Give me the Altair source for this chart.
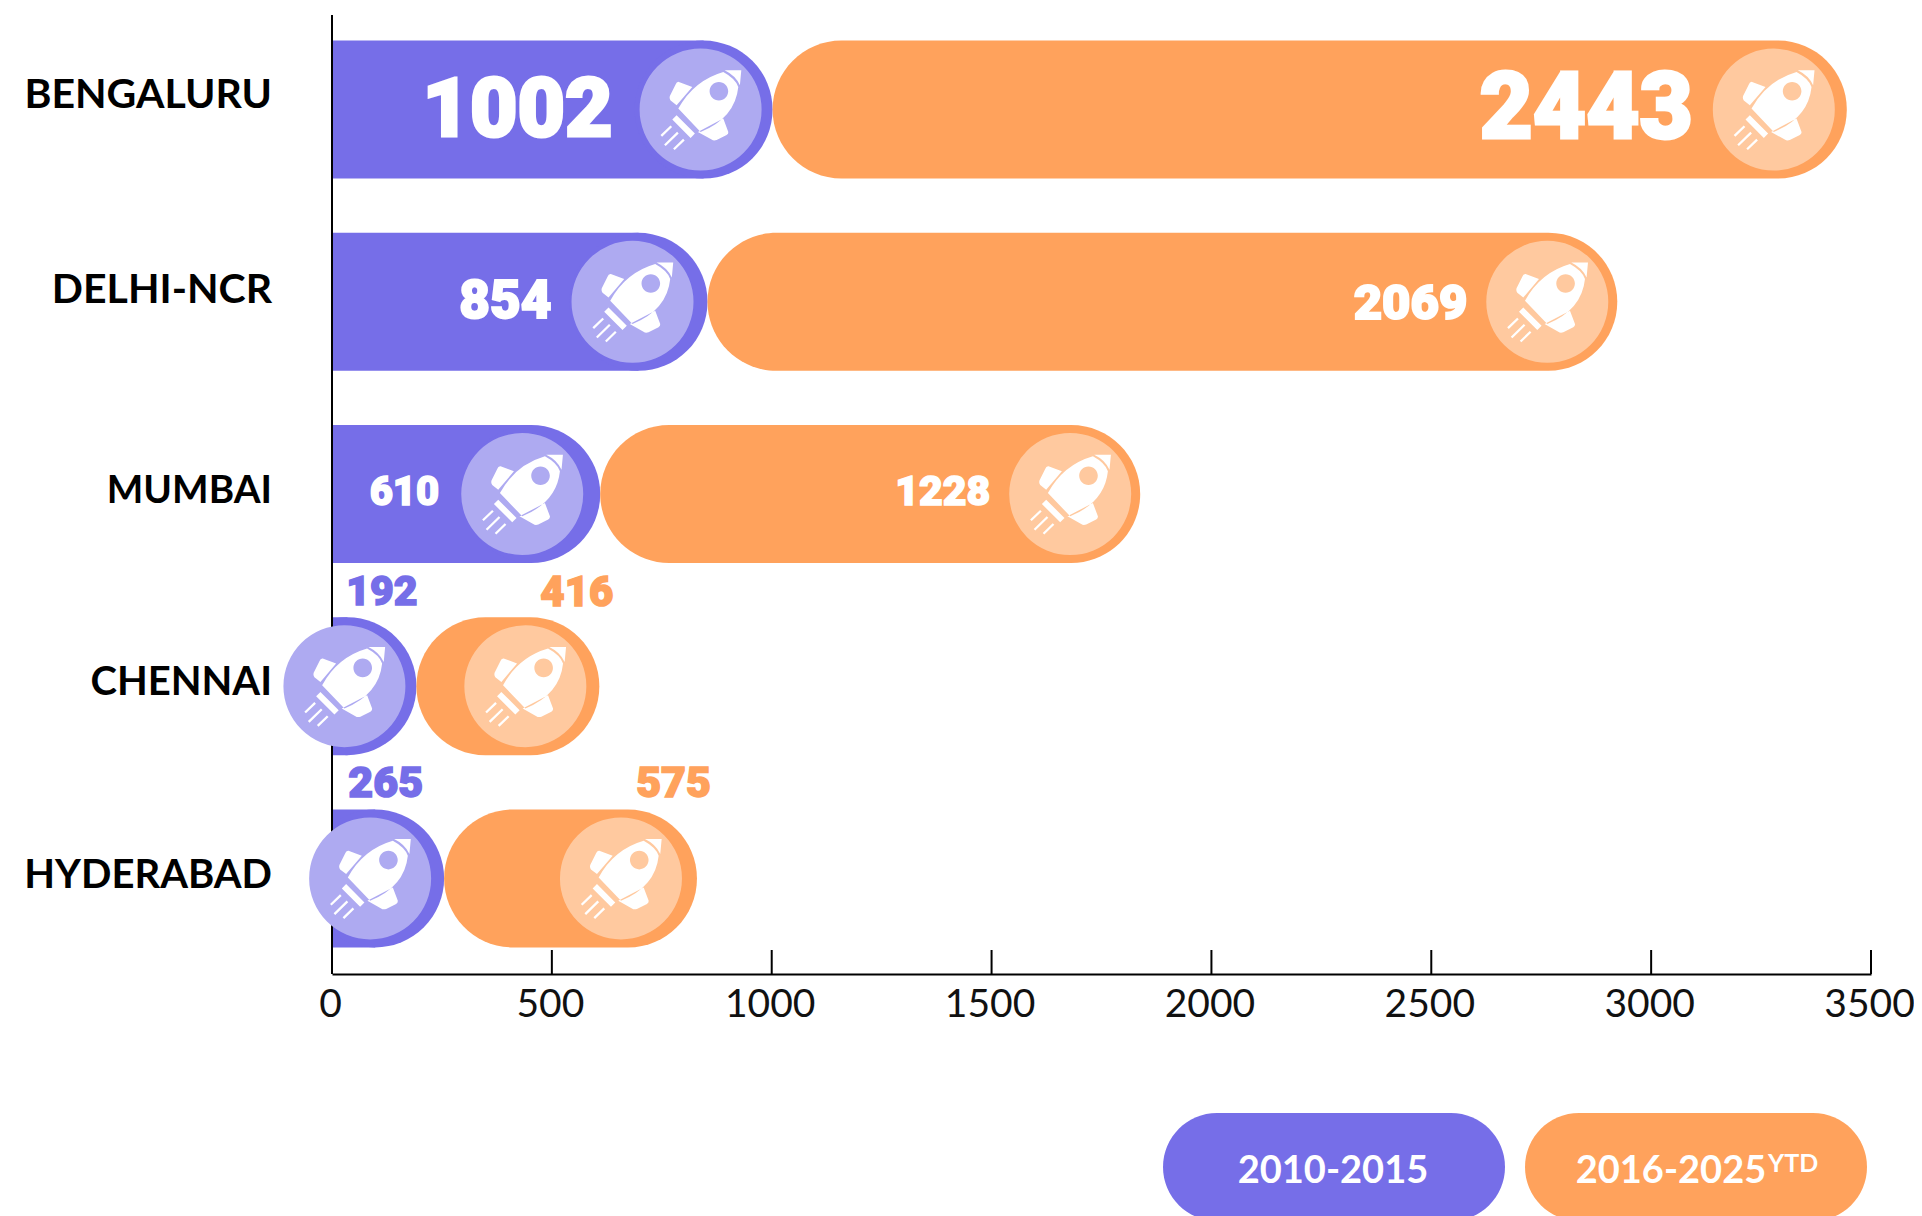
import re
import altair as alt
import pandas as pd

cities = ["BENGALURU", "DELHI-NCR", "MUMBAI", "CHENNAI", "HYDERABAD"]
early_labels = [1002, 854, 610, 192, 265]
early_bars = [1002, 854, 610, 192, 255]   # bar length as drawn in the picture
late = [2443, 2069, 1228, 416, 575]
x_ticks = [0, 500, 1000, 1500, 2000, 2500, 3000, 3500]

BLUE, ORANGE = "#766EE8", "#FFA25C"
BLUE_L, ORANGE_L = "#AEAAF1", "#FFC99F"
LABEL_FONT, AXIS_FONT = "Roboto", "Lato"

# label styling per city: font size, stroke, dx, dy
early_style = [(82, 3, -160, 1.5), (53, 2, -156, 0.5), (40, 1.5, -161, -1.5), (41, 1.5, 1, -93), (43, 1.5, -21, -94)]
late_style = [(92, 3, -154, 0), (49, 2, -150, 1.7), (41, 1.5, -150, -1.5), (42, 1.5, 14, -93), (43, 1.5, 14, -94)]
city_style = [(41, -13.5), (41, -11), (38.7, -3), (40, -3), (40, -2)]
early_circle_off = [-72, -75, -78, -72, -74]
late_circle_off = [-73, -70, -70, -74, -76]

ROCKET_PX = (
    "M24 -39.3 L40.7 -39.3 L39.3 -24.3 Q35 -34 24 -39.3 Z "
    "M22.7 -37.7 Q-6.8 -29.25 -22.3 -1 L0 22.3 Q34.55 8.2 37.7 -22.7 Q35 -31 22.7 -37.7 Z "
    "M18.3 -27.6 C23.4 -27.6 27.6 -23.4 27.6 -18.3 C27.6 -13.2 23.4 -9 18.3 -9 "
    "C13.2 -9 9 -13.2 9 -18.3 C9 -23.4 13.2 -27.6 18.3 -27.6 Z "
    "M-21.7 -27.7 L-8.3 -22.7 L-24 -4.3 L-30 -9 Q-32 -12 -30 -15 L-25 -25 Q-24 -28 -21.7 -27.7 Z "
    "M22.7 9 L27.7 22.3 Q28 24 26 25.5 L16 30.5 Q13 31.5 11 30 L-2.7 22.3 Z "
    "M-24 5.7 L-5.7 24 L-10 28.3 L-28.3 10 Z "
    "M-28.5 17.5 L-38.5 27.1 L-40.1 25.5 L-30.1 15.9 Z "
    "M-21.9 23.8 L-34.9 36.5 L-36.5 34.9 L-23.5 22.2 Z "
    "M-15.9 30.8 L-25.9 40.5 L-27.5 38.9 L-17.5 29.2 Z"
)
ROCKET = re.sub(r"-?\d+\.?\d*", lambda m: f"{float(m.group()) / 50:.4f}", ROCKET_PX)

df = pd.DataFrame({"city": cities, "early": early_bars, "late": late})
df["total"] = df["early"] + df["late"]
ticks = pd.DataFrame({"v": x_ticks})

x_scale = alt.Scale(domain=[0, 3500], nice=False)
y_scale = alt.Scale(domain=cities, range=[-1.5, 959.5], paddingInner=0, paddingOuter=0)
Y = alt.Y("city:N", scale=y_scale, axis=None, sort=None)
base = alt.Chart(df)

# square-ended body plus a round cap, so the cap keeps its full radius on short bars
bar_early = base.mark_bar(size=138, color=BLUE, xOffset=-69).encode(
    x=alt.X("early:Q", scale=x_scale, title=None,
            axis=alt.Axis(values=x_ticks, ticks=False, grid=False, domainColor="black", domainWidth=2,
                          labelFont=AXIS_FONT, labelFontSize=39, labelColor="#111", labelPadding=11,
                          labelOffset=-2, labelFontWeight=400, labelFlush=False, labelOverlap=False,
                          format="d")),
    x2=alt.datum(0),
    y=Y,
)
cap_early = base.mark_circle(size=19044, color=BLUE, opacity=1, xOffset=-69, clip=True).encode(
    x=alt.X("early:Q", scale=x_scale), y=Y
)
bar_late = base.mark_bar(size=138, color=ORANGE, cornerRadius=69).encode(
    x=alt.X("early:Q", scale=x_scale), x2="total:Q", y=Y
)
y_line = alt.Chart(ticks.head(1)).mark_rule(color="black", strokeWidth=2).encode(
    x=alt.value(0), y=alt.value(0), y2=alt.value(959)
)
tick_marks = alt.Chart(ticks).mark_rule(color="black", strokeWidth=2).encode(
    x=alt.X("v:Q", scale=x_scale), y=alt.value(935), y2=alt.value(959)
)

layers = [bar_early, cap_early, bar_late, y_line, tick_marks]

for i, city in enumerate(cities):
    row = base.transform_filter(alt.datum.city == city)
    for field, light, off in [("early", BLUE_L, early_circle_off[i]), ("total", ORANGE_L, late_circle_off[i])]:
        layers.append(row.mark_circle(size=14884, color=light, opacity=1, xOffset=off).encode(
            x=alt.X(f"{field}:Q", scale=x_scale), y=Y))
        layers.append(row.mark_point(shape=ROCKET, size=10000, filled=True, fill="white", opacity=1,
                                     strokeWidth=0, xOffset=off).encode(
            x=alt.X(f"{field}:Q", scale=x_scale), y=Y))

for i, city in enumerate(cities):
    row = base.transform_filter(alt.datum.city == city)
    for field, val, style, out_col in [
        ("early", early_labels[i], early_style[i], BLUE),
        ("total", late[i], late_style[i], ORANGE),
    ]:
        fs, sw, dx, dy = style
        col = "white" if i < 3 else out_col
        layers.append(row.mark_text(font=LABEL_FONT, fontWeight=900, fontSize=fs, color=col, stroke=col,
                                    strokeWidth=sw, align="right", baseline="middle", dx=dx, dy=dy).encode(
            x=alt.X(f"{field}:Q", scale=x_scale), y=Y, text=alt.value(str(val))))
    fs, dy = city_style[i]
    layers.append(row.mark_text(font=AXIS_FONT, fontWeight=700, fontSize=fs, color="black", align="right",
                                baseline="middle", dy=dy).encode(
        x=alt.value(-60), y=Y, text="city:N"))

# legend pills
leg = alt.Chart(ticks.head(1))
for x0, x1, col in [(831, 1173, BLUE), (1193, 1535, ORANGE)]:
    layers.append(leg.mark_rect(color=col, cornerRadius=54).encode(
        x=alt.value(x0), x2=alt.value(x1), y=alt.value(1098), y2=alt.value(1206)))
for txt, xp, yp, fs, al in [("2010-2015", 1001, 1157, 38, "center"), ("2016-2025", 1339, 1157, 38, "center"),
                            ("YTD", 1436, 1149, 25, "left")]:
    layers.append(leg.mark_text(font=AXIS_FONT, fontWeight=700, fontSize=fs, color="white", align=al,
                                baseline="middle").encode(
        x=alt.value(xp), y=alt.value(yp), text=alt.value(txt)))

chart = alt.layer(*layers).properties(
    width=1539, height=959,
    autosize=alt.AutoSizeParams(type="none"),
    padding={"left": 324, "top": 7, "right": 43, "bottom": 250},
).configure_view(stroke=None)

chart.save("out.html", embed_options={"renderer": "svg", "actions": False})
